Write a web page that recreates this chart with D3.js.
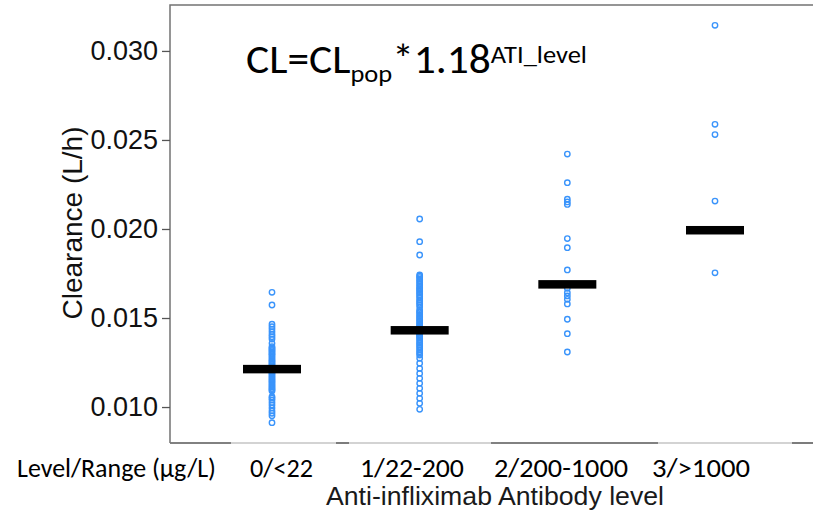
<!DOCTYPE html>
<html><head><meta charset="utf-8">
<script src="https://cdn.jsdelivr.net/npm/d3@7"></script>
<style>body{margin:0;background:#fff}svg{display:block}</style>
</head><body>
<svg id="chart" width="813" height="513"></svg>
<script>
// ---------- data ----------
const categories = ["0/<22", "1/22-200", "2/200-1000", "3/>1000"];
const levelRowLabel = "Level/Range (µg/L)";
const xTitle = "Anti-infliximab Antibody level";
const yTitle = "Clearance (L/h)";
const yTicks = [0.010, 0.015, 0.020, 0.025, 0.030];
const typicalCL = [0.01213, 0.01431, 0.01689, 0.01993];

const clGroup0 = [0.01644, 0.01573, 0.01465, 0.01451, 0.01438, 0.01423, 0.01408, 0.01395, 0.01382, 0.01358,
  0.01339, 0.01331, 0.01325, 0.01318, 0.01310, 0.01302, 0.01296, 0.01288, 0.01279, 0.01270, 0.01262, 0.01255,
  0.01247, 0.01240, 0.01232, 0.01224, 0.01218, 0.01213, 0.01213, 0.01208, 0.01200, 0.01192, 0.01185, 0.01176,
  0.01168, 0.01160, 0.01152, 0.01145, 0.01137, 0.01128, 0.01120, 0.01112, 0.01104, 0.01097, 0.01090,
  0.01058, 0.01050, 0.01039, 0.01025, 0.01011, 0.00995, 0.00978, 0.00965, 0.00951, 0.00912];
const clGroup1 = [0.02056, 0.01929, 0.01854,
  0.01742, 0.01735, 0.01727, 0.01718, 0.01709, 0.01700, 0.01690, 0.01681, 0.01672, 0.01664, 0.01657, 0.01648,
  0.01640, 0.01631, 0.01622, 0.01612, 0.01601, 0.01592, 0.01583, 0.01574, 0.01563,
  0.01545, 0.01537, 0.01529, 0.01520, 0.01511, 0.01503, 0.01494, 0.01486, 0.01477, 0.01468, 0.01460, 0.01451,
  0.01443, 0.01434, 0.01431, 0.01425, 0.01416, 0.01407, 0.01399, 0.01395,
  0.01387, 0.01378, 0.01367, 0.01358, 0.01349, 0.01340, 0.01330, 0.01320, 0.01310, 0.01301, 0.01292,
  0.01274, 0.01246, 0.01217, 0.01189, 0.01161, 0.01133, 0.01105, 0.01077, 0.01049, 0.01021, 0.00987];
const clGroup2 = [0.02421, 0.02260, 0.02167, 0.02152, 0.02138, 0.01946, 0.01895, 0.01770, 0.01689,
  0.01667, 0.01642, 0.01624, 0.01605, 0.01579, 0.01493, 0.01412, 0.01309];
const clGroup3 = [0.03144, 0.02588, 0.02530, 0.02157, 0.01993, 0.01993, 0.01754];
const groups = [clGroup0, clGroup1, clGroup2, clGroup3];

// ---------- layout ----------
const svg = d3.select("#chart");
const panel = {left: 170, top: 5, bottom: 443, right: 813};
const y = d3.scaleLinear().domain([0.00798, 0.03258]).range([panel.bottom, panel.top]);
const x = d3.scalePoint().domain(categories).range([272, 715]);

// panel border (left, top), bottom line
svg.append("path")
  .attr("d", `M${panel.right},${panel.top}H${panel.left}V${panel.bottom}`)
  .attr("fill", "none").attr("stroke", "#737373").attr("stroke-width", 1.5);
svg.append("line").attr("x1", panel.left).attr("x2", panel.right)
  .attr("y1", panel.bottom).attr("y2", panel.bottom)
  .attr("stroke", "#c4c4c4").attr("stroke-width", 1.5);
const darkBottom = [[170, 231], [336, 349], [491, 658], [792, 813]];
svg.selectAll("line.db").data(darkBottom).join("line").attr("class", "db")
  .attr("x1", d => d[0]).attr("x2", d => d[1])
  .attr("y1", panel.bottom).attr("y2", panel.bottom)
  .attr("stroke", "#666").attr("stroke-width", 1.6);

// y axis
const yAxis = svg.append("g").attr("transform", `translate(${panel.left},0)`)
  .call(d3.axisLeft(y).tickValues(yTicks).tickFormat(d3.format(".3f")).tickSize(8).tickPadding(4));
yAxis.select(".domain").remove();
yAxis.selectAll(".tick line").attr("stroke", "#555").attr("stroke-width", 1.3);
yAxis.selectAll(".tick text").attr("font-family", "'Liberation Sans', Arial, sans-serif")
  .attr("font-size", 27).attr("fill", "#111");

// y title
svg.append("text").attr("transform", "translate(82,223) rotate(-90)")
  .attr("text-anchor", "middle").attr("font-family", "'Liberation Sans', Arial, sans-serif")
  .attr("font-size", 28).attr("fill", "#111").text(yTitle);

// points
const pts = [];
groups.forEach((g, i) => g.forEach(v => pts.push({c: categories[i], v})));
svg.append("g").selectAll("circle").data(pts).join("circle")
  .attr("cx", d => x(d.c)).attr("cy", d => y(d.v)).attr("r", 2.7)
  .attr("fill", "none").attr("stroke", "#3a94fb").attr("stroke-width", 1.4);

// typical value bars
const barHalf = 29, barH = 8.5;
svg.append("g").selectAll("rect").data(typicalCL).join("rect")
  .attr("x", (d, i) => x(categories[i]) - barHalf).attr("width", barHalf * 2)
  .attr("y", d => y(d) - barH / 2).attr("height", barH).attr("fill", "#000");

// formula annotation
const calibri = "Carlito, Calibri, Lato, sans-serif";
const f = svg.append("text").attr("x", 246).attr("y", 73)
  .attr("font-family", calibri).attr("font-size", 41).attr("fill", "#000");
f.append("tspan").text("CL=CL");
f.append("tspan").attr("font-size", 25).attr("dy", 9).text("pop");
f.append("tspan").attr("dy", -9).text("*1.18");
f.append("tspan").attr("font-size", 25).attr("dy", -10).text("ATI_level");
const fw = f.node().getBBox().width;
const sx = 341 / fw;
f.attr("transform", `translate(246,0) scale(${sx},1) translate(-246,0)`);

// level / range row
const rowLabels = [levelRowLabel].concat(categories);
const rowX = [17, 250, 360, 494, 652];
const rowW = [199, 63, 104, 134, 98];
svg.append("g").selectAll("text").data(rowLabels).join("text")
  .attr("x", (d, i) => rowX[i]).attr("y", 477)
  .attr("font-family", calibri).attr("font-size", 27).attr("fill", "#000")
  .attr("textLength", (d, i) => rowW[i]).attr("lengthAdjust", "spacingAndGlyphs")
  .text(d => d);

// x title
svg.append("text").attr("x", 326).attr("y", 505)
  .attr("font-family", "'Liberation Sans', Arial, sans-serif").attr("font-size", 26).attr("fill", "#1a1a1a")
  .attr("textLength", 338).attr("lengthAdjust", "spacingAndGlyphs").text(xTitle);
</script>
</body></html>
